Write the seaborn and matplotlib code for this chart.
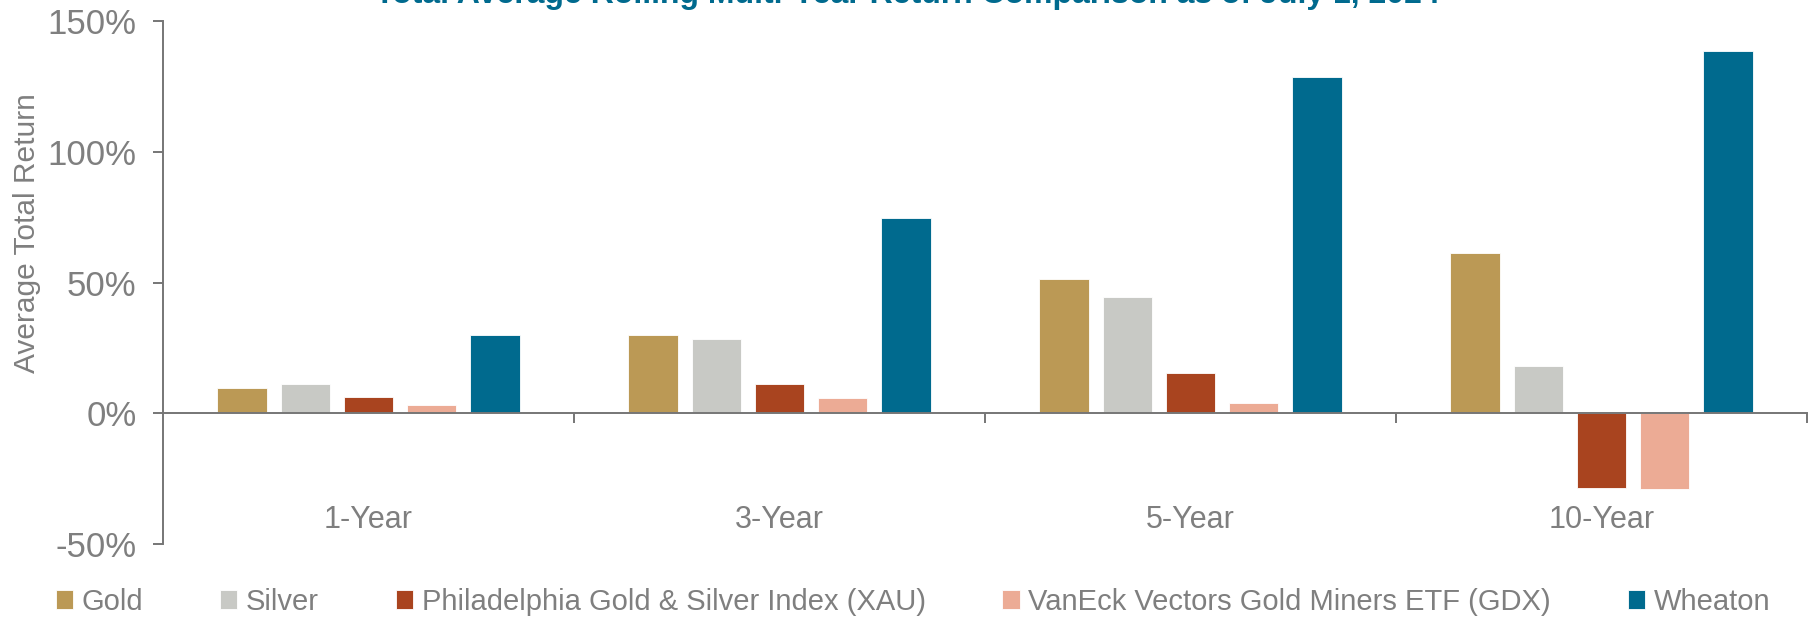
import pandas as pd
import matplotlib.pyplot as plt
from matplotlib.ticker import FuncFormatter, FixedLocator
import seaborn as sns

# values (percent)
periods = ['1-Year', '3-Year', '5-Year', '10-Year']
series = ['Gold', 'Silver', 'Philadelphia Gold & Silver Index (XAU)',
          'VanEck Vectors Gold Miners ETF (GDX)', 'Wheaton']
gold = [9.8, 30.0, 51.4, 61.3]
silver = [11.2, 28.5, 44.3, 18.2]
xau = [6.1, 11.0, 15.5, -28.5]
gdx = [3.1, 6.0, 3.9, -29.1]
wheaton = [30.0, 74.7, 128.7, 138.4]
colors = ['#BB9955', '#C8C9C5', '#A9441F', '#ECAB95', '#006A8E']

rows = []
for name, vals in zip(series, [gold, silver, xau, gdx, wheaton]):
    for p, v in zip(periods, vals):
        rows.append({'Period': p, 'Series': name, 'Return': v})
df = pd.DataFrame(rows)

sns.set_style('white')
plt.rcParams['font.family'] = ['Liberation Sans', 'DejaVu Sans']
plt.rcParams['axes.unicode_minus'] = False

grey = '#7f7f7f'
axis_grey = '#767676'

fig = plt.figure(figsize=(18.2, 6.18), dpi=100)
ax = fig.add_axes([163 / 1820, 1 - 544 / 618, (1807 - 163) / 1820, (544 - 21) / 618])

sns.barplot(data=df, x='Period', y='Return', hue='Series', hue_order=series,
            order=periods, palette=colors, saturation=1, errorbar=None,
            width=0.77, gap=0.22, edgecolor='white', linewidth=0.6, ax=ax)

ax.set_ylim(-50, 150)
ax.set_xlim(-0.5, 3.5)
ax.set_yticks([-50, 0, 50, 100, 150])
ax.yaxis.set_major_formatter(FuncFormatter(lambda v, _: f'{v:.0f}%'))

for side in ['top', 'right']:
    ax.spines[side].set_visible(False)
ax.spines['bottom'].set_position(('data', 0))
for side in ['left', 'bottom']:
    ax.spines[side].set_color(axis_grey)
    ax.spines[side].set_linewidth(1.4)

ax.tick_params(axis='y', which='major', direction='out', length=7, width=1.4,
               color=axis_grey, labelsize=25, labelcolor=grey, pad=12, left=True)
ax.tick_params(axis='x', which='major', length=0, labelsize=22, labelcolor=grey, pad=66)
ax.xaxis.set_minor_locator(FixedLocator([0.5, 1.5, 2.5, 3.5]))
ax.tick_params(axis='x', which='minor', direction='out', length=7, width=1.4,
               color=axis_grey, bottom=True)

ax.set_xlabel('')
ax.set_ylabel('Average Total Return', fontsize=21.5, color=grey)
ax.yaxis.set_label_coords(-0.0745, 0.595)

handles, labels = ax.get_legend_handles_labels()
ax.get_legend().remove()
fig.legend(handles, labels, loc='center', bbox_to_anchor=(913 / 1820, 1 - 602 / 618),
           ncol=5, frameon=False, fontsize=21, labelcolor=grey,
           handlelength=0.6, handleheight=0.6, handletextpad=0.3, columnspacing=2.62)

fig.text(907 / 1820, 1 - 3 / 618,
         'Total Average Rolling Multi-Year Return Comparison as of July 1, 2024',
         ha='center', va='baseline', fontsize=23, fontweight='bold', color='#006A8E')

fig.savefig('out.png', dpi=100)
